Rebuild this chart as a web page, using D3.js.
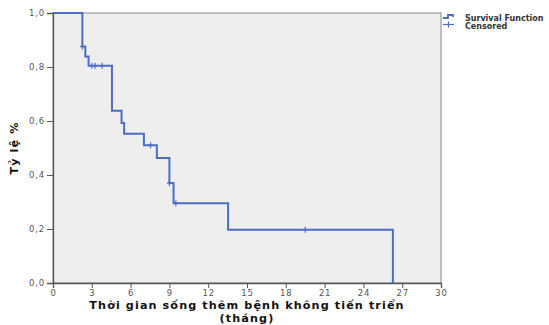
<!DOCTYPE html>
<html><head><meta charset="utf-8">
<script src="https://cdn.jsdelivr.net/npm/d3@7"></script>
<style>body{margin:0;background:#fff}svg{display:block}</style>
</head><body>
<svg id="c" width="549" height="325"></svg>
<script>
// Data
const eventTimes = [2.27, 2.5, 2.75, 4.56, 5.3, 5.5, 7.03, 8.03, 9.0, 9.32, 13.54, 26.28];
const survival   = [0.876, 0.839, 0.805, 0.638, 0.593, 0.553, 0.51, 0.463, 0.37, 0.295, 0.197, 0];
const censorTimes = [2.27, 3.0, 3.25, 3.8, 7.54, 9.0, 9.5, 19.5];
const xTicks = [0, 3, 6, 9, 12, 15, 18, 21, 24, 27, 30];
const yTicks = [0, 0.2, 0.4, 0.6, 0.8, 1.0];
const xTitle1 = "Thời gian sống thêm bệnh không tiến triển";
const xTitle2 = "(tháng)";
const yTitle = "Tỷ lệ %";
const legendLabels = ["Survival Function", "Censored"];

const svg = d3.select("#c");
const L = 53, R = 441, T = 13, B = 283;
const x = d3.scaleLinear().domain([0, 30]).range([L, R]);
const y = d3.scaleLinear().domain([0, 1]).range([B, T]);
const blue = "#4d6cc6";

svg.append("rect").attr("x", L).attr("y", T).attr("width", R - L).attr("height", B - T)
  .attr("fill", "#eeeeee").attr("stroke", "#8a8a8a").attr("stroke-width", 1);

const fmt = d => d3.format(".1f")(d).replace(".", ",");
const yAxis = svg.append("g").attr("transform", `translate(${L},0)`)
  .call(d3.axisLeft(y).tickValues(yTicks).tickFormat(fmt).tickSize(6).tickPadding(2));
const xAxis = svg.append("g").attr("transform", `translate(0,${B})`)
  .call(d3.axisBottom(x).tickValues(xTicks).tickFormat(d3.format("d")).tickSize(5).tickPadding(2));
[yAxis, xAxis].forEach(a => {
  a.select(".domain").attr("stroke", "#555").attr("stroke-width", 1.3);
  a.selectAll(".tick line").attr("stroke", "#555");
  a.selectAll("text").attr("font-family", "DejaVu Sans").attr("font-size", 8.5)
    .attr("letter-spacing", 0.8).attr("fill", "#555");
});

// step curve
const pts = [[0, 1]].concat(eventTimes.map((t, i) => [t, survival[i]]));
const line = d3.line().x(d => x(d[0])).y(d => y(d[1])).curve(d3.curveStepAfter);
svg.append("path").attr("d", line(pts)).attr("fill", "none").attr("stroke", blue).attr("stroke-width", 2);

function survAt(t) {
  let s = 1;
  eventTimes.forEach((e, i) => { if (e <= t) s = survival[i]; });
  return s;
}
const cg = svg.append("g").attr("stroke", blue).attr("stroke-width", 1.2);
censorTimes.forEach(t => {
  const cx = x(t), cy = y(survAt(t));
  cg.append("line").attr("x1", cx).attr("x2", cx).attr("y1", cy - 3).attr("y2", cy + 3);
  cg.append("line").attr("x1", cx - 2.5).attr("x2", cx + 2.5).attr("y1", cy).attr("y2", cy);
});

// titles
const titleStyle = s => s.attr("font-family", "DejaVu Sans").attr("font-weight", "bold")
  .attr("font-size", 11.2).attr("letter-spacing", 1.1).attr("fill", "#111");
svg.append("text").attr("x", (L + R) / 2).attr("y", 308.5).attr("text-anchor", "middle")
  .call(titleStyle).text(xTitle1);
svg.append("text").attr("x", (L + R) / 2).attr("y", 321.7).attr("text-anchor", "middle")
  .call(titleStyle).text(xTitle2);
svg.append("text").attr("transform", `translate(18,${(T + B) / 2}) rotate(-90)`).attr("text-anchor", "middle")
  .call(titleStyle).text(yTitle);

// legend
const lg = svg.append("g");
lg.append("path").attr("d", "M443,18H448V15H453V17").attr("fill", "none").attr("stroke", blue).attr("stroke-width", 1.8);
lg.append("line").attr("x1", 443).attr("x2", 454).attr("y1", 24.5).attr("y2", 24.5).attr("stroke", blue).attr("stroke-width", 1.2);
lg.append("line").attr("x1", 448.5).attr("x2", 448.5).attr("y1", 21.5).attr("y2", 27.5).attr("stroke", blue).attr("stroke-width", 1.2);
legendLabels.forEach((s, i) => {
  lg.append("text").attr("x", 465).attr("y", 20.5 + i * 8.5).attr("font-family", "DejaVu Sans")
    .attr("font-weight", "bold").attr("font-size", 8).attr("fill", "#333").text(s);
});
</script>
</body></html>
